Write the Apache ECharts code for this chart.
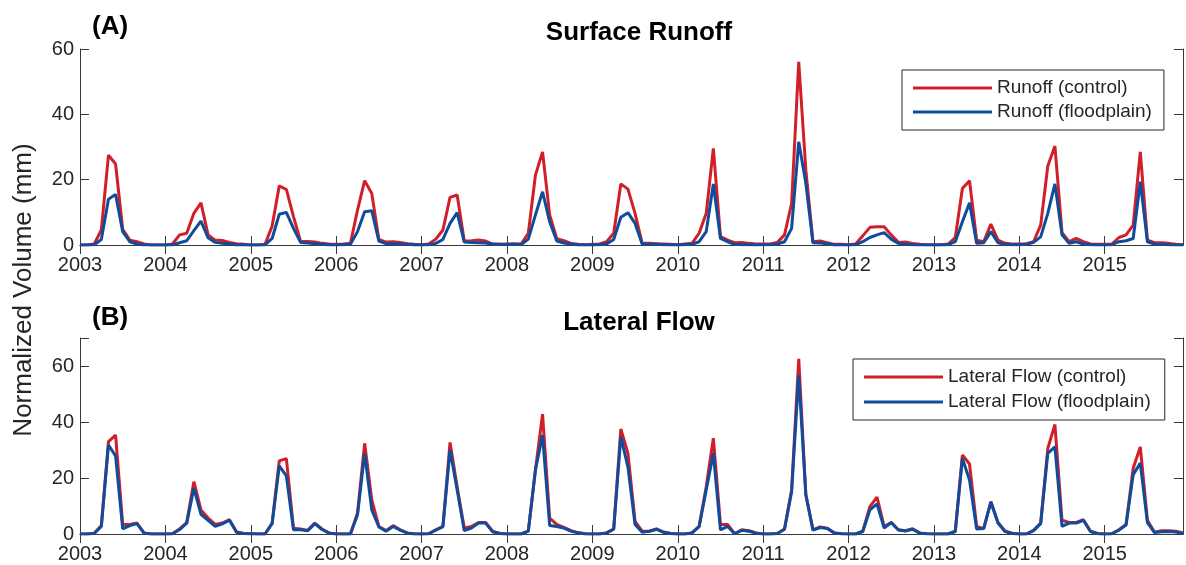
<!DOCTYPE html>
<html>
<head>
<meta charset="utf-8">
<script src="https://cdn.jsdelivr.net/npm/echarts@6/dist/echarts.min.js"></script>
<style>
  html, body { margin: 0; padding: 0; background: #fff; }
  #chart { width: 1186px; height: 565px; }
</style>
</head>
<body>
<div id="chart"></div>
<script>
// Monthly totals, January 2003 through December 2015 (12 values per row = one year)
const years = ['2003','2004','2005','2006','2007','2008','2009','2010','2011','2012','2013','2014','2015'];

const runoffControl = [
  0, 0, 0.3, 4.6, 27.5, 24.8, 4.8, 1.5, 1.0, 0.3, 0, 0,
  0, 0.3, 3.1, 3.6, 9.7, 12.9, 3.1, 1.5, 1.4, 0.8, 0.4, 0.2,
  0, 0, 0.2, 5.8, 18.1, 17.0, 8.7, 1.1, 1.1, 0.9, 0.5, 0.3,
  0.2, 0.3, 0.5, 10.7, 19.7, 15.8, 1.7, 0.9, 1.0, 0.8, 0.4, 0.2,
  0.1, 0.3, 1.8, 4.6, 14.6, 15.3, 1.2, 1.3, 1.5, 1.2, 0.3, 0.2,
  0.3, 0.4, 0.3, 3.6, 21.4, 28.5, 9.2, 1.9, 1.3, 0.5, 0.2, 0.1,
  0.2, 0.3, 1.0, 3.6, 18.7, 17.1, 9.7, 0.5, 0.5, 0.4, 0.3, 0.2,
  0.1, 0.3, 0.5, 3.6, 9.7, 29.6, 2.6, 1.5, 0.7, 0.8, 0.5, 0.3,
  0.3, 0.3, 0.8, 3.1, 12.7, 56.1, 22.9, 1.0, 1.2, 0.7, 0.2, 0.2,
  0.1, 0.3, 2.8, 5.4, 5.6, 5.6, 3.1, 0.8, 0.9, 0.5, 0.2, 0.1,
  0.1, 0.1, 0.3, 2.3, 17.3, 19.7, 1.5, 1.0, 6.4, 1.5, 0.5, 0.3,
  0.3, 0.4, 1.0, 6.1, 24.2, 30.3, 3.8, 1.0, 2.0, 1.0, 0.3, 0.2,
  0.2, 0.3, 2.3, 3.1, 6.1, 28.5, 1.5, 0.7, 0.7, 0.5, 0.2, 0.1
];

const runoffFloodplain = [
  0, 0, 0.1, 1.7, 14.0, 15.5, 4.1, 1.0, 0.3, 0, 0, 0,
  0, 0, 0.7, 1.3, 4.4, 7.3, 2.2, 0.8, 0.5, 0.3, 0, 0,
  0, 0, 0, 2.0, 9.4, 10.0, 5.1, 0.8, 0.6, 0.4, 0.2, 0,
  0, 0.1, 0.2, 4.1, 10.2, 10.5, 1.2, 0.4, 0.4, 0.3, 0.2, 0,
  0, 0.1, 0.5, 1.7, 6.6, 9.9, 0.9, 0.8, 0.7, 0.6, 0.2, 0.2,
  0.1, 0.2, 0.1, 1.8, 9.2, 16.3, 7.1, 1.2, 0.6, 0.3, 0, 0,
  0, 0.1, 0.3, 1.7, 8.5, 9.9, 6.6, 0.3, 0.2, 0.2, 0.1, 0,
  0, 0.1, 0.2, 1.0, 4.1, 18.7, 2.0, 1.0, 0.2, 0.1, 0.1, 0,
  0.1, 0.1, 0.3, 1.0, 5.1, 31.6, 18.9, 0.7, 0.6, 0.4, 0, 0,
  0, 0.1, 1.0, 2.3, 3.1, 3.8, 1.8, 0.5, 0.2, 0.1, 0, 0,
  0, 0, 0.1, 1.0, 7.1, 12.9, 0.5, 0.7, 4.1, 0.7, 0.2, 0.1,
  0.1, 0.2, 0.8, 2.5, 9.7, 18.7, 3.1, 0.5, 1.0, 0.3, 0.1, 0,
  0, 0.1, 1.0, 1.3, 2.0, 19.4, 1.0, 0.3, 0.2, 0.1, 0, 0
];

const lateralControl = [
  0, 0, 0.3, 3.0, 33.0, 35.3, 3.4, 3.4, 3.9, 0.4, 0, 0,
  0, 0.1, 1.8, 4.1, 18.7, 8.6, 5.7, 3.4, 3.9, 5.1, 0.7, 0.2,
  0.1, 0, 0, 3.9, 26.1, 26.9, 2.1, 1.8, 1.3, 3.9, 1.8, 0.4,
  0, 0, 0, 7.5, 32.4, 12.2, 2.7, 1.2, 3.0, 1.5, 0.4, 0.1,
  0, 0.1, 1.5, 2.7, 32.7, 16.9, 2.1, 2.7, 4.1, 4.1, 0.9, 0.2,
  0, 0, 0, 1.0, 22.9, 42.8, 5.7, 3.4, 2.4, 1.2, 0.5, 0.1,
  0, 0, 0.4, 1.8, 37.5, 28.8, 4.5, 1.0, 1.0, 1.8, 0.7, 0.2,
  0, 0, 0.4, 2.7, 16.9, 34.2, 3.4, 3.4, 0.1, 1.5, 1.2, 0.4,
  0, 0, 0.2, 1.8, 15.7, 62.6, 14.0, 1.5, 2.5, 2.1, 0.4, 0.1,
  0, 0, 1.0, 9.8, 13.2, 2.7, 4.1, 1.5, 1.2, 1.9, 0.4, 0.1,
  0, 0, 0, 1.0, 28.2, 25.0, 2.7, 1.9, 11.6, 4.1, 1.0, 0.3,
  0, 0, 1.3, 3.9, 30.6, 39.1, 4.9, 4.1, 4.1, 5.1, 1.0, 0.2,
  0, 0.1, 1.5, 3.4, 23.5, 31.1, 4.9, 0.6, 1.2, 1.2, 1.0, 0.4
];

const lateralFloodplain = [
  0, 0, 0.2, 2.7, 31.8, 27.9, 1.8, 3.0, 3.7, 0.3, 0, 0,
  0, 0.1, 1.6, 3.9, 16.4, 7.0, 4.9, 2.7, 3.6, 4.9, 0.6, 0.2,
  0.1, 0, 0, 3.7, 24.3, 20.8, 1.5, 1.5, 1.2, 3.7, 1.6, 0.3,
  0, 0, 0, 6.9, 28.8, 8.6, 2.5, 1.0, 2.7, 1.4, 0.3, 0,
  0, 0.1, 1.4, 2.6, 30.0, 15.7, 1.2, 2.1, 3.9, 3.9, 0.8, 0.2,
  0, 0, 0, 1.0, 22.9, 35.3, 3.0, 2.7, 2.1, 1.0, 0.4, 0,
  0, 0, 0.4, 1.7, 34.8, 23.9, 3.4, 0.6, 1.0, 1.7, 0.6, 0.2,
  0, 0, 0.4, 2.6, 15.7, 28.8, 1.5, 2.7, 0.1, 1.3, 1.0, 0.3,
  0, 0, 0.2, 1.7, 15.1, 56.7, 14.0, 1.4, 2.3, 2.0, 0.4, 0.1,
  0, 0, 0.9, 8.6, 10.8, 2.1, 4.1, 1.4, 1.1, 1.7, 0.3, 0.1,
  0, 0, 0, 0.9, 27.0, 19.3, 1.8, 2.0, 11.4, 3.9, 0.9, 0.2,
  0, 0, 1.2, 3.7, 28.8, 31.1, 2.7, 3.9, 3.9, 4.9, 0.9, 0.1,
  0, 0.1, 1.4, 3.2, 21.2, 25.3, 4.1, 0.5, 0.8, 0.9, 0.7, 0.2
];

const runoffTicks = [0, 20, 40, 60];
const lateralTicks = [0, 20, 40, 60];

// Month labels "YYYY-MM" for the shared category axis
const months = [];
years.forEach(y => {
  for (let m = 1; m <= 12; m++) months.push(y + '-' + String(m).padStart(2, '0'));
});

const RED = '#D01F28';
const BLUE = '#0F4C9C';
const INK = '#262626';
const FRAME = '#3a3a3a';
const FONT = '"Liberation Sans", Arial, Helvetica, sans-serif';

const yearStart = (i) => i % 12 === 0;

function bottomX(grid) {
  return {
    type: 'category', gridIndex: grid, data: months, boundaryGap: false,
    axisLine: { lineStyle: { color: FRAME, width: 1 } },
    axisTick: { inside: true, length: 9, interval: yearStart, lineStyle: { color: FRAME } },
    axisLabel: {
      interval: yearStart, formatter: v => v.slice(0, 4),
      color: INK, fontSize: 20, fontFamily: FONT, margin: 10
    },
    splitLine: { show: false }
  };
}
function topX(grid) {
  return {
    type: 'category', gridIndex: grid, data: months, boundaryGap: false, position: 'top',
    axisLine: { lineStyle: { color: FRAME, width: 1 } },
    axisTick: { inside: true, length: 9, interval: yearStart, lineStyle: { color: FRAME } },
    axisLabel: { show: false }, splitLine: { show: false }
  };
}
function leftY(grid, max, ticks) {
  return {
    type: 'value', gridIndex: grid, min: 0, max: max, interval: 20,
    axisLine: { show: true, lineStyle: { color: FRAME, width: 1 } },
    axisTick: { show: true, inside: true, length: 9, lineStyle: { color: FRAME } },
    axisLabel: {
      color: INK, fontSize: 20, fontFamily: FONT, margin: 6,
      formatter: v => (ticks.indexOf(v) >= 0 ? String(v) : '')
    },
    splitLine: { show: false }
  };
}
function rightY(grid, max) {
  return {
    type: 'value', gridIndex: grid, min: 0, max: max, interval: 20, position: 'right',
    axisLine: { show: true, lineStyle: { color: FRAME, width: 1 } },
    axisTick: { show: true, inside: true, length: 9, lineStyle: { color: FRAME } },
    axisLabel: { show: false }, splitLine: { show: false }
  };
}
function lineSeries(name, data, color, xi, yi) {
  return {
    name: name, type: 'line', data: data, xAxisIndex: xi, yAxisIndex: yi,
    showSymbol: false, symbol: 'none', smooth: false, animation: false,
    lineStyle: { color: color, width: 3 }, itemStyle: { color: color },
    clip: true
  };
}
function legendBox(names, left, top, gap, padRight) {
  return {
    data: names, left: left, top: top, orient: 'vertical',
    icon: 'rect', itemWidth: 79, itemHeight: 3, itemGap: gap, itemTextGap: 10,
    padding: [8, padRight, 8, 11],
    borderColor: INK, borderWidth: 1, backgroundColor: '#fff',
    selectedMode: false,
    textStyle: { color: INK, fontSize: 19, fontFamily: FONT, lineHeight: 20 }
  };
}

const chart = echarts.init(document.getElementById('chart'), null, { renderer: 'canvas' });

chart.setOption({
  backgroundColor: '#fff',
  animation: false,
  title: [
    { text: 'Surface Runoff', left: 634, top: 15, textAlign: 'center',
      textStyle: { fontSize: 26, fontWeight: 'bold', color: '#000', fontFamily: FONT } },
    { text: '(A)', left: 87, top: 9,
      textStyle: { fontSize: 26, fontWeight: 'bold', color: '#000', fontFamily: FONT } },
    { text: 'Lateral Flow', left: 634, top: 305, textAlign: 'center',
      textStyle: { fontSize: 26, fontWeight: 'bold', color: '#000', fontFamily: FONT } },
    { text: '(B)', left: 87, top: 300,
      textStyle: { fontSize: 26, fontWeight: 'bold', color: '#000', fontFamily: FONT } }
  ],
  graphic: [{
    type: 'text', x: 24, y: 290, rotation: Math.PI / 2,
    style: {
      text: 'Normalized Volume (mm)', fill: INK, fontSize: 26, fontFamily: FONT,
      textAlign: 'center', textVerticalAlign: 'middle'
    }
  }],
  legend: [
    legendBox(['Runoff (control)', 'Runoff (floodplain)'], 902, 70, 4, 12),
    legendBox(['Lateral Flow (control)', 'Lateral Flow (floodplain)'], 853, 359, 5, 14)
  ],
  grid: [
    { left: 80, right: 3, top: 49, height: 196 },
    { left: 80, right: 3, top: 338, height: 196 }
  ],
  xAxis: [bottomX(0), topX(0), bottomX(1), topX(1)],
  yAxis: [leftY(0, 60, runoffTicks), rightY(0, 60), leftY(1, 70, lateralTicks), rightY(1, 70)],
  series: [
    lineSeries('Runoff (control)', runoffControl, RED, 0, 0),
    lineSeries('Runoff (floodplain)', runoffFloodplain, BLUE, 0, 0),
    lineSeries('Lateral Flow (control)', lateralControl, RED, 2, 2),
    lineSeries('Lateral Flow (floodplain)', lateralFloodplain, BLUE, 2, 2)
  ]
});
</script>
</body>
</html>
